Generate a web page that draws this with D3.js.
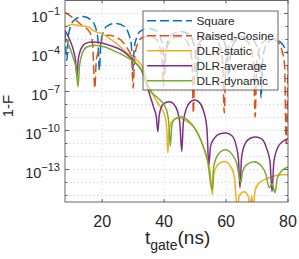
<!DOCTYPE html>
<html>
<head>
<meta charset="UTF-8">
<title>1-F vs gate time</title>
<style>
  body { margin: 0; background: #fff; }
  svg { display: block; font-family: "Liberation Sans", Arial, sans-serif; }
  .grid line { stroke: #c4c4c4; stroke-width: 0.8; stroke-dasharray: 1,3; }
  .curve { fill: none; stroke-width: 1.5; }
</style>
<script src="https://d3js.org/d3.v7.min.js"></script>
</head>
<body>
<script>
// values: [gate time (ns), log10(1-F)]
const square = [[8.0,-2.5],[8.64,-4.6],[9.0,-2.9],[9.8,-2.0],[11.0,-1.5],[13.8,-1.23],[16.5,-1.5],[17.9,-2.1],[18.6,-2.9],[19.09,-5.36],[19.6,-3.2],[20.4,-2.4],[21.7,-1.95],[24.5,-1.76],[27.2,-2.0],[28.6,-2.6],[29.4,-3.4],[29.86,-5.36],[30.4,-3.6],[31.2,-2.8],[32.4,-2.35],[35.0,-2.15],[37.6,-2.35],[38.9,-2.9],[39.7,-3.8],[40.14,-5.7],[40.6,-3.9],[41.4,-3.0],[42.7,-2.6],[45.4,-2.38],[48.0,-2.6],[49.3,-3.15],[50.1,-4.0],[50.59,-5.9],[51.1,-4.1],[51.9,-3.25],[53.2,-2.8],[55.8,-2.6],[58.4,-2.8],[59.7,-3.4],[60.5,-4.3],[60.94,-6.3],[61.4,-4.3],[62.2,-3.45],[63.5,-3.0],[66.1,-2.76],[68.7,-3.0],[70.0,-3.6],[70.85,-4.5],[71.32,-7.5],[71.8,-4.6],[72.6,-3.6],[73.9,-3.15],[75.5,-2.95],[78.0,-3.3],[80.0,-4.1]];

const raisedCosine = [[8.0,-0.92],[10.25,-1.28],[13.5,-1.92],[16.0,-2.43],[16.9,-3.3],[17.64,-6.74],[18.1,-4.6],[19.25,-3.6],[20.2,-2.84],[21.8,-2.68],[24.7,-2.84],[27.9,-3.6],[29.5,-4.37],[30.0,-6.74],[30.5,-4.4],[31.5,-3.3],[33.0,-2.85],[35.0,-2.75],[37.0,-2.9],[38.5,-3.5],[39.3,-4.5],[39.8,-6.6],[40.3,-4.5],[41.2,-3.4],[42.7,-2.9],[44.7,-2.8],[46.7,-2.95],[48.2,-3.6],[49.0,-4.6],[49.46,-8.66],[49.9,-4.7],[50.9,-3.5],[52.4,-3.0],[54.5,-2.85],[56.5,-3.0],[58.1,-3.6],[58.9,-4.7],[59.43,-8.66],[59.9,-4.8],[60.9,-3.55],[62.4,-3.05],[64.4,-2.9],[66.4,-3.05],[68.0,-3.7],[68.9,-4.8],[69.4,-8.97],[69.9,-4.9],[70.9,-3.6],[72.4,-3.1],[74.4,-2.95],[76.4,-3.1],[78.0,-3.8],[78.9,-5.0],[79.4,-11.0],[80.0,-5.0]];

const dlrStatic = [[8.0,-2.05],[10.25,-1.84],[12.5,-1.92],[15.6,-2.05],[17.64,-2.38],[19.89,-2.55],[24.0,-3.2],[28.6,-4.15],[32.75,-4.98],[35.3,-6.7],[38.0,-7.9],[40.3,-8.9],[40.9,-10.0],[41.2,-11.72],[41.6,-10.1],[42.5,-9.3],[44.97,-9.04],[47.3,-9.3],[49.8,-9.8],[52.0,-10.8],[53.6,-11.9],[54.9,-13.2],[55.57,-14.94],[56.1,-13.3],[57.5,-12.6],[59.43,-12.39],[61.3,-12.7],[62.7,-13.6],[63.61,-16.0],[64.3,-15.0],[65.86,-14.71],[67.2,-15.1],[67.79,-16.0],[68.27,-15.0],[68.75,-16.0],[69.4,-14.6],[70.68,-14.02],[73.9,-13.64],[78.07,-13.41],[80.0,-13.41]];

const dlrAverage = [[8.0,-2.3],[9.5,-3.0],[10.8,-3.9],[11.4,-4.6],[11.86,-5.88],[12.3,-4.5],[13.2,-3.7],[14.5,-3.32],[16.68,-3.2],[19.89,-3.27],[23.0,-3.5],[26.32,-3.83],[30.5,-4.73],[32.75,-5.4],[34.4,-6.5],[35.3,-7.2],[36.6,-8.2],[37.5,-9.0],[37.99,-10.1],[38.4,-8.9],[39.3,-8.1],[40.5,-7.85],[41.75,-7.79],[43.0,-7.95],[44.3,-8.5],[45.1,-9.5],[45.7,-11.62],[46.2,-9.4],[47.2,-8.3],[48.5,-7.8],[49.8,-7.66],[51.2,-7.8],[52.6,-8.4],[53.8,-9.8],[54.45,-12.64],[55.0,-11.2],[56.2,-10.6],[58.0,-10.25],[60.0,-10.19],[61.9,-10.4],[63.3,-11.2],[64.0,-12.2],[64.5,-14.4],[65.0,-12.1],[66.2,-11.0],[67.8,-10.6],[69.6,-10.5],[71.5,-10.65],[73.0,-11.3],[74.2,-12.4],[74.86,-14.71],[75.4,-12.5],[76.7,-11.3],[78.3,-10.85],[80.0,-10.6]];

const dlrDynamic = [[8.0,-2.84],[9.5,-3.6],[10.9,-4.6],[11.7,-5.4],[12.18,-6.64],[12.7,-5.0],[13.7,-4.0],[15.07,-3.58],[17.64,-3.45],[20.86,-3.58],[24.5,-3.95],[28.5,-4.44],[32.75,-5.36],[35.32,-6.9],[38.0,-7.5],[40.6,-8.3],[41.5,-9.4],[42.0,-11.2],[42.5,-9.6],[43.5,-9.1],[45.5,-8.94],[47.3,-9.15],[49.14,-9.58],[51.0,-10.3],[52.4,-11.1],[54.0,-12.3],[55.5,-14.56],[56.0,-12.8],[57.3,-11.9],[59.75,-11.49],[61.8,-11.8],[63.4,-12.5],[64.8,-14.02],[65.3,-13.2],[66.8,-12.6],[69.07,-12.41],[71.3,-12.7],[72.9,-13.4],[73.9,-14.41],[74.86,-14.1],[75.82,-14.79],[76.5,-13.7],[78.0,-13.1],[80.0,-12.8]];

const seriesNames = ["Square", "Raised-Cosine", "DLR-static", "DLR-average", "DLR-dynamic"];
const seriesColors = ["#0072BD", "#D95319", "#EDB120", "#7E2F8E", "#77AC30"];
const seriesDashed = [true, true, false, false, false];
const seriesData = [square, raisedCosine, dlrStatic, dlrAverage, dlrDynamic];

const xTicks = [20, 40, 60, 80];
const yLabelExp = [-1, -4, -7, -10, -13];
const yGridExp = d3.range(-15, 0);

// layout
const W = 299, H = 259;
const margin = { top: 0.5, right: 11, bottom: 57, left: 65 };
const width = W - margin.left - margin.right;
const height = H - margin.top - margin.bottom;

const svg = d3.select("body").append("svg")
  .attr("width", W).attr("height", H);

const g = svg.append("g")
  .attr("transform", `translate(${margin.left},${margin.top})`);

const x = d3.scaleLinear().domain([8, 80]).range([0, width]);
const y = d3.scaleLog().domain([Math.pow(10, -15.5), 1]).range([height, 0]);

g.append("defs").append("clipPath").attr("id", "plotClip")
  .append("rect").attr("width", width).attr("height", height);

// grid
const grid = g.append("g").attr("class", "grid");
grid.selectAll(".gy").data(yGridExp).join("line")
  .attr("x1", 0).attr("x2", width)
  .attr("y1", d => y(Math.pow(10, d))).attr("y2", d => y(Math.pow(10, d)));
grid.selectAll(".gx").data(xTicks.slice(0, 3)).join("line")
  .attr("x1", d => x(d)).attr("x2", d => x(d))
  .attr("y1", 0).attr("y2", height);

// curves
const line = d3.line()
  .x(d => x(d[0]))
  .y(d => y(Math.pow(10, d[1])))
  .curve(d3.curveMonotoneX);

const curves = g.append("g").attr("clip-path", "url(#plotClip)");
seriesData.forEach((data, i) => {
  curves.append("path")
    .datum(data)
    .attr("class", "curve")
    .attr("stroke", seriesColors[i])
    .attr("stroke-dasharray", seriesDashed[i] ? "9,4" : null)
    .attr("d", line);
});

// axes box and ticks
const axisColor = "#555";
g.append("rect").attr("width", width).attr("height", height)
  .attr("fill", "none").attr("stroke", axisColor).attr("stroke-width", 0.9);

const tickG = g.append("g").attr("stroke", axisColor).attr("stroke-width", 0.9);
xTicks.forEach(t => {
  tickG.append("line").attr("x1", x(t)).attr("x2", x(t)).attr("y1", height).attr("y2", height - 3);
  tickG.append("line").attr("x1", x(t)).attr("x2", x(t)).attr("y1", 0).attr("y2", 3);
});
yGridExp.forEach(e => {
  const len = yLabelExp.includes(e) ? 4 : 2.5;
  tickG.append("line").attr("x1", 0).attr("x2", len).attr("y1", y(Math.pow(10, e))).attr("y2", y(Math.pow(10, e)));
  tickG.append("line").attr("x1", width).attr("x2", width - len).attr("y1", y(Math.pow(10, e))).attr("y2", y(Math.pow(10, e)));
});

// tick labels
g.selectAll(".xl").data(xTicks).join("text")
  .attr("x", d => x(d)).attr("y", height + 24.5)
  .attr("text-anchor", "middle").attr("font-size", 16).attr("fill", "#262626")
  .text(d => d);

const yl = g.selectAll(".yl").data(yLabelExp).join("text")
  .attr("x", -5).attr("y", d => y(Math.pow(10, d)) + 8.5)
  .attr("text-anchor", "end").attr("font-size", 14.5).attr("fill", "#262626");
yl.append("tspan").text("10");
yl.append("tspan").attr("dy", -7).attr("font-size", 11).text(d => "\u2212" + Math.abs(d));

// axis labels
const xl = svg.append("text")
  .attr("x", 145).attr("y", 244)
  .attr("font-size", 19).attr("fill", "#262626");
xl.append("tspan").text("t");
xl.append("tspan").attr("dy", 6).attr("font-size", 14).text("gate");
xl.append("tspan").attr("dy", -6).text("(ns)");

svg.append("text")
  .attr("transform", `translate(13,106) rotate(-90)`)
  .attr("text-anchor", "middle").attr("font-size", 15).attr("fill", "#262626")
  .text("1-F");

// legend
const lg = svg.append("g").attr("transform", "translate(143,11)");
lg.append("rect").attr("width", 135).attr("height", 79)
  .attr("fill", "#fff").attr("fill-opacity", 0.7)
  .attr("stroke", axisColor).attr("stroke-width", 0.9);
seriesNames.forEach((name, i) => {
  const ly = 9.7 + i * 15;
  lg.append("line")
    .attr("x1", 4).attr("x2", 49).attr("y1", ly).attr("y2", ly)
    .attr("stroke", seriesColors[i]).attr("stroke-width", 1.5)
    .attr("stroke-dasharray", seriesDashed[i] ? "9,4" : null);
  lg.append("text")
    .attr("x", 53.5).attr("y", ly + 4.3)
    .attr("font-size", 11.8).attr("fill", "#262626")
    .text(name);
});
</script>
</body>
</html>
